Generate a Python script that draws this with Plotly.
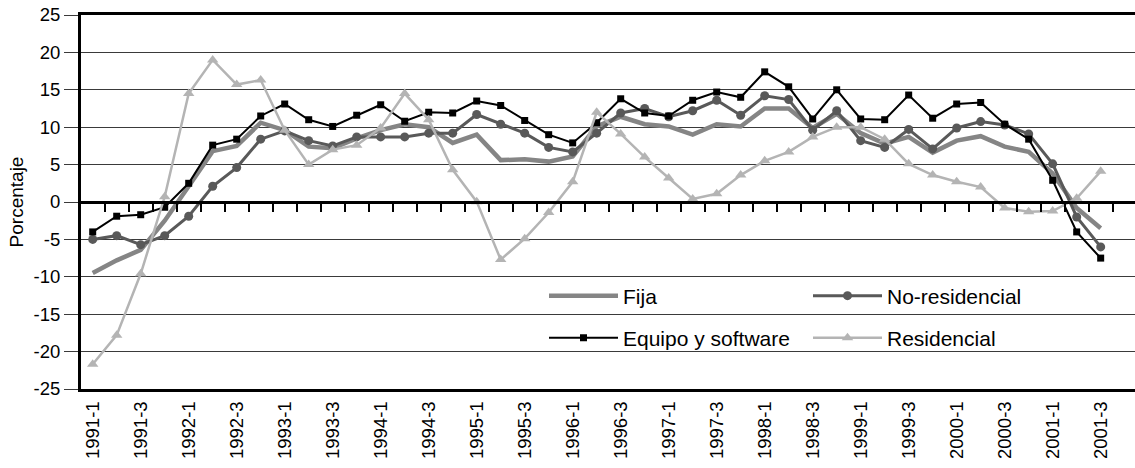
import plotly.graph_objects as go

quarters = [f"{y}-{q}" for y in range(1991, 2002) for q in range(1, 5)][:43]
tick_labels = quarters[::2]

fija = [-9.5, -7.8, -6.4, -2.5, 2.1, 6.8, 7.5, 10.6, 9.6, 7.4, 7.2, 8.5, 9.6, 10.4, 10.0,
        7.9, 9.0, 5.6, 5.7, 5.4, 6.1, 10.1, 11.4, 10.4, 10.1, 9.0, 10.4, 10.1, 12.5, 12.5,
        9.9, 11.8, 9.2, 7.8, 8.7, 6.6, 8.2, 8.8, 7.4, 6.7, 3.8, -0.8, -3.5]
no_residencial = [-5.0, -4.5, -5.7, -4.5, -1.9, 2.1, 4.6, 8.4, 9.5, 8.2, 7.5, 8.7, 8.7, 8.7,
                  9.2, 9.2, 11.7, 10.4, 9.2, 7.3, 6.7, 9.2, 11.9, 12.5, 11.4, 12.2, 13.6, 11.6,
                  14.2, 13.7, 9.6, 12.2, 8.2, 7.3, 9.7, 7.1, 9.9, 10.75, 10.3, 9.1, 5.1, -2.0, -6.0]
equipo = [-4.0, -1.9, -1.7, -0.7, 2.5, 7.6, 8.4, 11.5, 13.1, 11.0, 10.1, 11.6, 13.0, 10.8,
          12.0, 11.9, 13.5, 12.9, 10.9, 9.0, 7.9, 10.6, 13.8, 11.9, 11.5, 13.6, 14.7, 14.0,
          17.4, 15.4, 11.1, 15.0, 11.1, 11.0, 14.3, 11.2, 13.1, 13.3, 10.4, 8.4, 2.9, -4.0, -7.5]
residencial = [-21.7, -17.8, -9.6, 0.7, 14.5, 19.0, 15.7, 16.3, 9.6, 5.0, 7.0, 7.6, 9.9, 14.5,
               11.0, 4.3, 0.05, -7.7, -4.9, -1.4, 2.7, 12.0, 9.1, 6.0, 3.2, 0.4, 1.1, 3.6, 5.5,
               6.7, 8.7, 10.0, 10.0, 8.4, 5.1, 3.6, 2.7, 2.0, -0.8, -1.3, -1.2, 0.5, 4.1]

y_ticks = list(range(-25, 30, 5))
y_ticktext = [str(v) for v in y_ticks]

FONT = "Liberation Sans, Arial, sans-serif"
C_FIJA = "#858585"
C_NORES = "#595959"
C_EQ = "#000000"
C_RES = "#b4b4b4"

fig = go.Figure()
fig.add_trace(go.Scatter(x=quarters, y=fija, name="Fija", mode="lines",
                         line=dict(color=C_FIJA, width=4.5), legend="legend"))
fig.add_trace(go.Scatter(x=quarters, y=no_residencial, name="No-residencial", mode="lines+markers",
                         line=dict(color=C_NORES, width=3),
                         marker=dict(symbol="circle", size=9, color=C_NORES), legend="legend"))
fig.add_trace(go.Scatter(x=quarters, y=equipo, name="Equipo y software", mode="lines+markers",
                         line=dict(color=C_EQ, width=2),
                         marker=dict(symbol="square", size=7, color=C_EQ), legend="legend2"))
fig.add_trace(go.Scatter(x=quarters, y=residencial, name="Residencial", mode="lines+markers",
                         line=dict(color=C_RES, width=2.5),
                         marker=dict(symbol="triangle-up", size=10, color=C_RES), legend="legend2"))
# helper trace so the zero-line tick axis is drawn
fig.add_trace(go.Scatter(x=[], y=[], xaxis="x2", yaxis="y", showlegend=False, hoverinfo="skip"))

x0, x1 = -0.4875, 43.43

legend_common = dict(orientation="h", xanchor="left", yanchor="middle",
                     bgcolor="rgba(0,0,0,0)", borderwidth=0, itemwidth=69,
                     entrywidth=180, entrywidthmode="pixels",
                     font=dict(family=FONT, size=21, color="#000000"))

fig.update_layout(
    width=1135, height=468,
    margin=dict(l=81, r=0, t=15, b=79, autoexpand=False),
    plot_bgcolor="white", paper_bgcolor="white",
    font=dict(family=FONT, size=19, color="#000000"),
    xaxis=dict(type="category", range=[x0, x1], tickmode="array",
               tickvals=tick_labels, ticktext=tick_labels, tickangle=-90,
               showgrid=False, zeroline=False, showline=True, mirror=True,
               linecolor="#000000", linewidth=3, automargin=False,
               ticks="outside", ticklen=2, tickcolor="rgba(0,0,0,0)",
               ticklabeloverflow="allow",
               tickfont=dict(family=FONT, size=18.5)),
    xaxis2=dict(overlaying="x", anchor="free", position=0.5, range=[x0, x1],
                tickmode="array", tickvals=[k + 0.5 for k in range(43)],
                showticklabels=False, showgrid=False, zeroline=False, automargin=False,
                showline=True, linecolor="#000000", linewidth=3,
                ticks="outside", ticklen=8, tickwidth=2, tickcolor="#000000"),
    yaxis=dict(range=[-25, 25], tickmode="array", tickvals=y_ticks, ticktext=y_ticktext,
               showgrid=True, gridcolor="#3a3a3a", gridwidth=1, automargin=False,
               zeroline=True, zerolinecolor="#000000", zerolinewidth=3,
               showline=True, linecolor="#000000", linewidth=3,
               ticks="outside", ticklen=14, tickcolor="#3a3a3a", tickwidth=1,
               ticklabeloverflow="allow",
               tickfont=dict(family=FONT, size=18.5),
               title=dict(text="Porcentaje", font=dict(family=FONT, size=19), standoff=5)),
    legend=dict(x=(544 - 81) / 1054, y=(389 - 296) / 374, **legend_common),
    legend2=dict(x=(544 - 81) / 1054, y=(389 - 338) / 374, **legend_common),
)

# remove the default page margin so the figure sits at the window's top-left corner
fig.write_html("out.html",
               config={"displayModeBar": False},
               post_script="document.body.style.margin='0';document.body.style.overflow='hidden';")
